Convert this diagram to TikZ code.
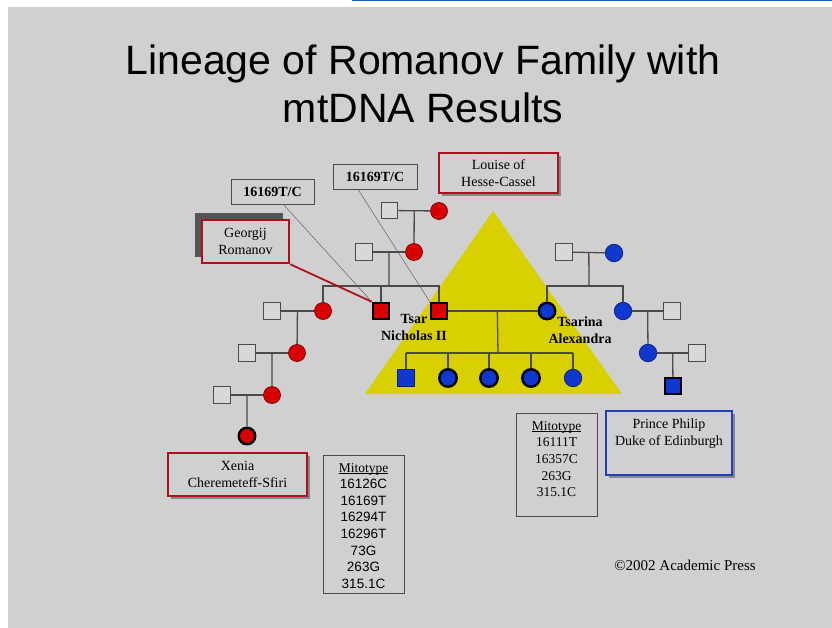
\documentclass[tikz,border=0pt]{standalone}
\usepackage{fontspec}
\setmainfont{Liberation Serif}
\newfontfamily\arialfont{Liberation Sans}
\usetikzlibrary{positioning, calc, shadows}
\definecolor{slideGray}{HTML}{D0D0D0}
\definecolor{squareFill}{HTML}{D8D8D8}
\definecolor{kinGray}{HTML}{4A4A4A}
\definecolor{romRed}{HTML}{D80000}
\definecolor{mtBlue}{HTML}{1038D0}
\definecolor{triYellow}{HTML}{D8D000}
\definecolor{boxRed}{HTML}{B0101C}
\definecolor{boxBlue}{HTML}{2040B8}
\definecolor{shadeDark}{HTML}{555555}
\definecolor{linkBlue}{HTML}{1060C0}
%% intestazione sottolineata vicino alla linea di base
\newcommand{\mitohead}[1]{\setbox0\hbox{#1}\rlap{\rule[-1.6pt]{\wd0}{0.7pt}}\box0}

\begin{document}
\begin{tikzpicture}[x=1pt, y=-1pt,
  malebox/.style={rectangle, draw=kinGray, fill=squareFill, line width=1pt, minimum size=16.5pt, inner sep=0pt},
  malered/.style={rectangle, fill=romRed, minimum size=16pt, inner sep=0pt},
  maleblue/.style={rectangle, fill=mtBlue, draw=mtBlue!55!black, line width=0.7pt, minimum size=16.5pt, inner sep=0pt},
  femred/.style={circle, fill=romRed, draw=romRed!55!black, line width=0.7pt, minimum size=17pt, inner sep=0pt},
  femblue/.style={circle, fill=mtBlue, draw=mtBlue!55!black, line width=0.7pt, minimum size=17.5pt, inner sep=0pt},
  carrier/.style={draw=black, line width=2.4pt},
  plainrim/.style={},
  kin/.style={draw=kinGray, line width=1.3pt},
  pointer/.style={draw=gray!70!black, line width=0.45pt},
  namebox/.style={rectangle, draw=boxRed, line width=2.6pt, fill=slideGray, align=center,
                  font=\fontsize{14}{17}\selectfont, inner sep=0pt},
  boxshadow/.style={drop shadow={shadow xshift=3pt, shadow yshift=-3pt, fill=black, opacity=0.35}},
  seqbox/.style={rectangle, draw=kinGray, line width=0.9pt, fill=slideGray, inner sep=0pt},
  seqtext/.style={align=center, font=\fontsize{13.5}{16.7}\selectfont, inner sep=0pt},
  kinlabel/.style={align=center, font=\bfseries\fontsize{14}{17}\selectfont, inner sep=0pt},
  titletext/.style={font=\arialfont\fontsize{41}{48}\selectfont, anchor=base, inner sep=0pt}
]
  %% --- fondo della diapositiva ---
  \useasboundingbox (0,0) rectangle (832,628);
  \fill[white] (0,0) rectangle (832,628);
  \fill[slideGray] (8,7) rectangle (832,628);
  \draw[linkBlue, line width=1.5pt] (352,0.75) -- (832,0.75);

  %% --- titolo ---
  \node[titletext] (title1) at (423,75) {Lineage of Romanov Family with};
  \node[titletext] (title2) at (423,123) {mtDNA Results};

  %% --- triangolo dei Romanov (famiglia dello zar) ---
  \fill[triYellow] (365,394) -- (493,211) -- (622,394) -- cycle;

  %% --- ramo materno dello zar (linea rossa) ---
  \node[malebox] (chrIX) at (389.5,210.5) {};
  \node[femred] (louise) at (439,211) {};
  \node[malebox] (alexIII) at (364,252) {};
  \node[femred] (dagmar) at (414,252) {};
  \node[femred] (xeniaA) at (323,311) {};
  \node[malered, carrier] (georgij) at (381,311) {};
  \node[malered, carrier] (nicholas) at (439,311) {};
  \node[malebox] (sandro) at (272,311) {};
  \node[malebox] (felix) at (247,353) {};
  \node[femred] (irina) at (297,353) {};
  \node[malebox] (nikolai) at (222,395) {};
  \node[femred] (irinaY) at (272,395) {};
  \node[femred, carrier, minimum size=16.5pt] (xeniaS) at (247,436) {};

  \draw[kin] (chrIX) -- (louise);
  \coordinate (mChr) at ($(chrIX.east)!.5!(louise.west)$);
  \draw[kin] (mChr) -- (dagmar);
  \draw[kin] (alexIII) -- (dagmar);
  \coordinate (mAlex) at ($(alexIII.east)!.5!(dagmar.west)$);
  \coordinate (sibAlex) at (389,286);
  \draw[kin] (mAlex) -- (sibAlex);
  \draw[kin] (xeniaA.north) |- (nicholas.north |- sibAlex) -- (nicholas.north);
  \draw[kin] (georgij.north) -- (georgij.north |- sibAlex);

  %% discendenza di Xenia fino a Xenia Cheremeteff-Sfiri
  \draw[kin] (sandro) -- (xeniaA);
  \coordinate (mSandro) at ($(sandro.east)!.5!(xeniaA.west)$);
  \draw[kin] (mSandro) -- (irina);
  \draw[kin] (felix) -- (irina);
  \coordinate (mFelix) at ($(felix.east)!.5!(irina.west)$);
  \draw[kin] (mFelix) -- (irinaY);
  \draw[kin] (nikolai) -- (irinaY);
  \coordinate (mNikolai) at ($(nikolai.east)!.5!(irinaY.west)$);
  \draw[kin] (mNikolai) -- (xeniaS);

  %% --- ramo della zarina (linea blu) ---
  \node[malebox] (louisIV) at (564,252) {};
  \node[femblue] (alice) at (614,253) {};
  \node[femblue, carrier, minimum size=16.5pt] (alexandra) at (547,311) {};
  \node[femblue] (victoria) at (623,311) {};
  \node[malebox] (battenberg) at (672,311) {};
  \node[femblue] (aliceB) at (648,353) {};
  \node[malebox] (andrew) at (697,353) {};
  \node[maleblue, carrier, minimum size=15.5pt] (philip) at (673,386) {};

  \draw[kin] (louisIV) -- (alice);
  \coordinate (mLouis) at ($(louisIV.east)!.5!(alice.west)$);
  \coordinate (sibLouis) at (589,286);
  \draw[kin] (mLouis) -- (sibLouis);
  \draw[kin] (alexandra.north) |- (victoria.north |- sibLouis) -- (victoria.north);
  \draw[kin] (victoria) -- (battenberg);
  \coordinate (mVict) at ($(victoria.east)!.5!(battenberg.west)$);
  \draw[kin] (mVict) -- (aliceB);
  \draw[kin] (aliceB) -- (andrew);
  \coordinate (mAliceB) at ($(aliceB.east)!.5!(andrew.west)$);
  \draw[kin] (mAliceB) -- (philip);

  %% --- figli di Nicola II e Alessandra ---
  \draw[kin] (nicholas) -- (alexandra);
  \coordinate (mNich) at ($(nicholas)!.54!(alexandra)$);
  \coordinate (sibNich) at (498,353);
  \draw[kin] (mNich) -- (sibNich);
  \node[maleblue] (alexei) at (406,378) {};
  \draw[kin] (alexei.north) -- (alexei.north |- sibNich);
  \foreach \nm/\xx/\rim in {olga/448/carrier, tatiana/489/carrier, maria/531/carrier, anastasia/573/plainrim} {
    \node[femblue, \rim] (\nm) at (\xx,378) {};
    \draw[kin] (\nm.north) -- (\nm.north |- sibNich);
  }
  \draw[kin] (alexei.north |- sibNich) -- (anastasia.north |- sibNich);

  \node[kinlabel] (tsarlbl) at (414,327) {Tsar\\Nicholas II};
  \node[kinlabel] (tsarinalbl) at (580,330) {Tsarina\\Alexandra};

  %% --- etichette con le mutazioni 16169T/C ---
  \node[seqbox, minimum width=83pt, minimum height=25pt, font=\bfseries\fontsize{14}{17}\selectfont] (mut1) at (272.5,191.5) {16169T/C};
  \node[seqbox, minimum width=84pt, minimum height=25pt, font=\bfseries\fontsize{14}{17}\selectfont] (mut2) at (375,176.5) {16169T/C};
  \coordinate (mut1foot) at ($(mut1.south west)!.63!(mut1.south east)$);
  \coordinate (mut2foot) at ($(mut2.south west)!.30!(mut2.south east)$);
  \draw[pointer] (mut1foot) -- (georgij.north west);
  \draw[pointer] (mut2foot) -- (nicholas.north west);

  %% --- riquadri dei nomi ---
  \fill[shadeDark] (195,213) rectangle (283,257);
  \node[namebox, minimum width=87pt, minimum height=43pt] (georgijbox) at (245.5,241.5) {Georgij\\Romanov};
  \draw[boxRed, line width=1.8pt] (georgijbox.south east) -- (georgij.north west);
  \node[namebox, boxshadow, minimum width=119pt, minimum height=40pt] (louisebox) at (498.5,173) {Louise of\\Hesse-Cassel};
  \node[namebox, boxshadow, minimum width=139pt, minimum height=43pt] (xeniabox) at (237.5,474.5) {Xenia\\Cheremeteff-Sfiri};
  \node[namebox, boxshadow, draw=boxBlue, minimum width=126pt, minimum height=64pt] (philipbox) at (669,443) {};
  \node[anchor=north, align=center, font=\fontsize{14}{17}\selectfont, inner sep=0pt] (philiptxt) at ($(philipbox.north)+(0,9)$) {Prince Philip\\Duke of Edinburgh};

  %% --- mitotipi ---
  \node[seqbox, minimum width=81pt, minimum height=138pt] (mitoL) at (363.5,524) {};
  \node[seqtext, anchor=north, font=\arialfont\fontsize{13.5}{16.6}\selectfont] (mitoLtxt) at ($(mitoL.north)+(0,8.5)$)
    {{\rmfamily\mitohead{Mitotype}}\\16126C\\16169T\\16294T\\16296T\\73G\\263G\\315.1C};
  \node[seqbox, minimum width=81pt, minimum height=103pt] (mitoR) at (556.5,464.5) {};
  \node[seqtext, anchor=north] (mitoRtxt) at ($(mitoR.north)+(0,8.5)$)
    {\mitohead{Mitotype}\\16111T\\16357C\\263G\\315.1C};

  \node[font=\fontsize{15}{18}\selectfont, inner sep=0pt] (credit) at (685,565) {©2002 Academic Press};
\end{tikzpicture}
\end{document}
